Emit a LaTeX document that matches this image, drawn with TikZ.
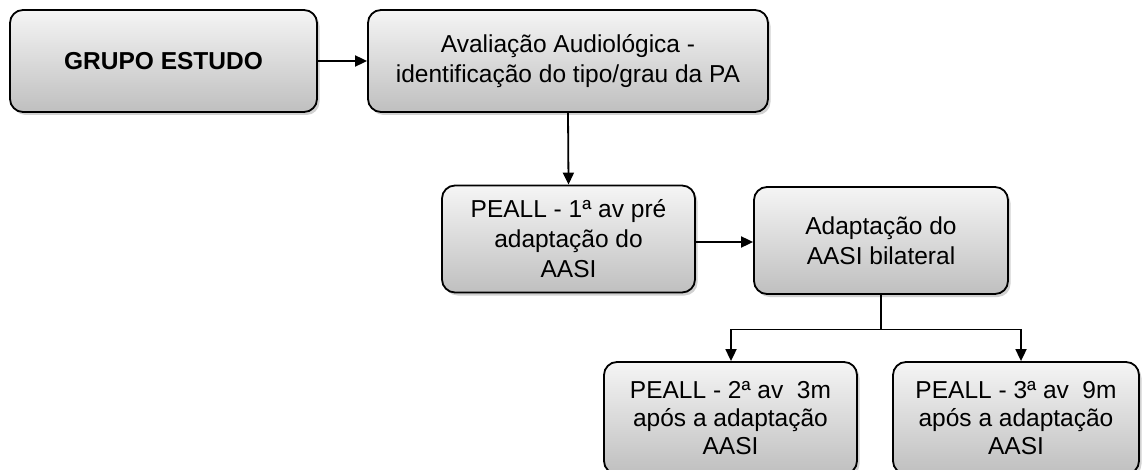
\documentclass[tikz,border=0pt]{standalone}
\usepackage{fontspec}
\setmainfont{Liberation Sans}
\usetikzlibrary{arrows.meta,shadows}
\tikzset{
  stagebox/.style={
    draw=black, line width=1.8pt, rounded corners=13pt,
    top color=white!96!black, bottom color=black!25,
    drop shadow={shadow xshift=2.5pt, shadow yshift=-3pt, opacity=0.3, fill=black!60},
    align=center, inner sep=0pt,
    font=\fontsize{24.5}{30}\selectfont
  },
  tightlines/.style={font=\fontsize{24.5}{28}\selectfont},
  flow/.style={line width=1.8pt, -{Triangle[length=12pt,width=11pt]}},
  joint/.style={line width=1.8pt}
}
\begin{document}
\begin{tikzpicture}[x=1pt,y=-1pt]
  \useasboundingbox (0,0) rectangle (1142,470);
  \clip (0,0) rectangle (1142,470);

  % top row
  \node[stagebox, minimum width=307pt, minimum height=102pt] (grupo) at (163.5,61)
    {\textbf{GRUPO ESTUDO}};
  \node[stagebox, minimum width=400pt, minimum height=102pt] (avalia) at (568,61)
    {Avaliação Audiológica -\\identificação do tipo/grau da PA};

  % middle row
  \node[stagebox, minimum width=253pt, minimum height=107pt] (peall1) at (568.5,239)
    {PEALL - 1ª av pré\\adaptação do\\AASI};
  \node[stagebox, minimum width=254pt, minimum height=107pt] (adapt) at (881,240.5)
    {Adaptação do\\AASI bilateral};

  % bottom row
  \node[stagebox, tightlines, minimum width=253pt, minimum height=112pt] (peall2) at (730.5,418)
    {PEALL - 2ª av \ 3m\\após a adaptação\\AASI};
  \node[stagebox, tightlines, minimum width=246pt, minimum height=112pt] (peall3) at (1016,418)
    {PEALL - 3ª av \ 9m\\após a adaptação\\AASI};

  % connectors
  \draw[flow] (grupo.east) -- (avalia.west);
  \draw[flow] (avalia.south) -- (peall1.north);
  \draw[flow] (peall1.east |- 0,242) -- (adapt.west |- 0,242);

  \coordinate (split) at (adapt.south |- 0,329.5);
  \coordinate (leftturn) at (731,329.5);
  \coordinate (rightturn) at (1021,329.5);
  \draw[joint] (adapt.south) -- (split);
  \draw[flow] (split) -- (leftturn) -- (leftturn |- peall2.north);
  \draw[flow] (split) -- (rightturn) -- (rightturn |- peall3.north);
\end{tikzpicture}
\end{document}
